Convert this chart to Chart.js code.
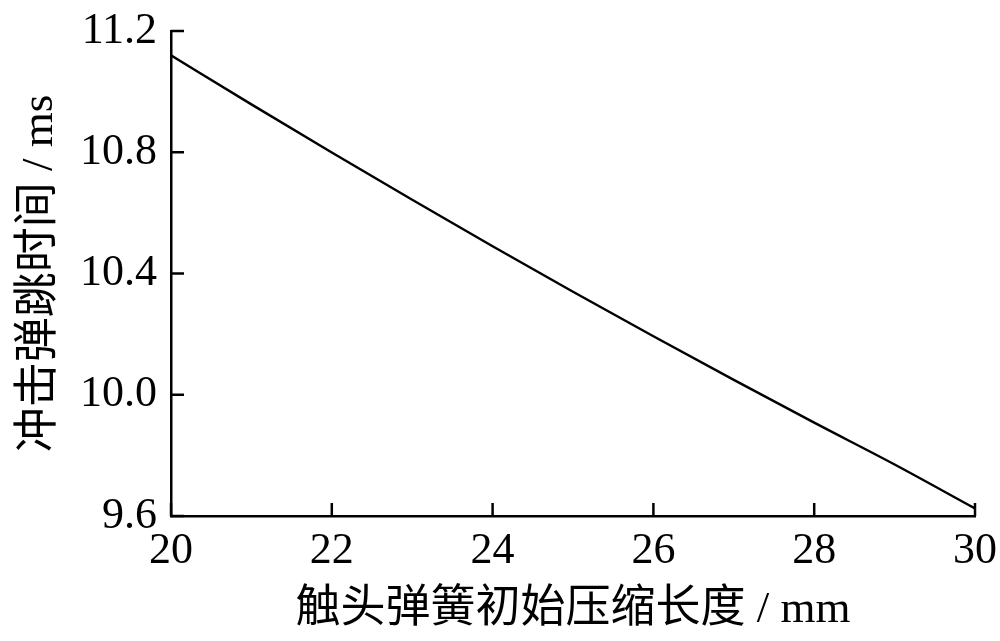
<!DOCTYPE html>
<html>
<head>
<meta charset="utf-8">
<script src="https://cdn.jsdelivr.net/npm/chart.js"></script>
<style>
  html, body { margin: 0; padding: 0; background: #fff; }
  #chart { display: block; }
</style>
</head>
<body>
<canvas id="chart" width="1000" height="641"></canvas>
<script>
// values
var lengths = [20, 21, 22, 23, 24, 25, 26, 27, 28, 29, 30];
var bounceTimes = [11.12, 10.958, 10.799, 10.643, 10.490, 10.340, 10.193, 10.049, 9.908, 9.770, 9.625];

var xTicks = [20, 22, 24, 26, 28, 30];
var yTicks = [9.6, 10.0, 10.4, 10.8, 11.2];

var xTitle = '触头弹簧初始压缩长度 / mm';
var yTitle = '冲击弹跳时间 / ms';

var fontFamily = '"Liberation Serif", "Times New Roman", "Noto Sans CJK SC", serif';

// inward tick marks
var innerTicks = {
    id: 'innerTicks',
    afterDraw: function (chart) {
        var ctx = chart.ctx;
        var area = chart.chartArea;
        var len = 13;
        ctx.save();
        ctx.strokeStyle = '#000';
        ctx.lineWidth = 2.5;
        chart.scales.x.ticks.forEach(function (t) {
            var px = chart.scales.x.getPixelForValue(t.value);
            ctx.beginPath();
            ctx.moveTo(px, area.bottom);
            ctx.lineTo(px, area.bottom - len);
            ctx.stroke();
        });
        chart.scales.y.ticks.forEach(function (t) {
            var py = chart.scales.y.getPixelForValue(t.value);
            ctx.beginPath();
            ctx.moveTo(area.left, py);
            ctx.lineTo(area.left + len, py);
            ctx.stroke();
        });
        ctx.restore();
    }
};

var points = lengths.map(function (x, i) {
    return { x: x, y: bounceTimes[i] };
});

new Chart(document.getElementById('chart').getContext('2d'), {
    type: 'line',
    data: {
        datasets: [{
            data: points,
            borderColor: '#000',
            borderWidth: 2.4,
            pointRadius: 0,
            fill: false,
            cubicInterpolationMode: 'monotone'
        }]
    },
    options: {
        responsive: false,
        devicePixelRatio: 1,
        animation: false,
        layout: { padding: { top: 31, right: 25, left: 0, bottom: 0 } },
        plugins: {
            legend: { display: false },
            tooltip: { enabled: false }
        },
        scales: {
            x: {
                type: 'linear',
                min: 20,
                max: 30,
                afterBuildTicks: function (s) {
                    s.ticks = xTicks.map(function (v) { return { value: v }; });
                },
                afterFit: function (s) {
                    s.height = 125;
                    s.paddingLeft = 0;
                    s.paddingRight = 0;
                },
                grid: { display: false, drawTicks: false },
                border: { display: true, color: '#000', width: 2.5 },
                ticks: {
                    color: '#000',
                    padding: 9,
                    maxRotation: 0,
                    font: { family: fontFamily, size: 44 }
                },
                title: {
                    display: true,
                    text: xTitle,
                    color: '#000',
                    padding: { top: 0, bottom: 4 },
                    font: { family: fontFamily, size: 45 }
                }
            },
            y: {
                min: 9.6,
                max: 11.2,
                afterBuildTicks: function (s) {
                    s.ticks = yTicks.map(function (v) { return { value: v }; });
                },
                afterFit: function (s) {
                    s.width = 171;
                    s.paddingTop = 0;
                    s.paddingBottom = 0;
                },
                grid: { display: false, drawTicks: false },
                border: { display: true, color: '#000', width: 2.5 },
                ticks: {
                    color: '#000',
                    padding: 14,
                    font: { family: fontFamily, size: 44 },
                    callback: function (v) { return Number(v).toFixed(1); }
                },
                title: {
                    display: true,
                    text: yTitle,
                    color: '#000',
                    padding: { top: 13, bottom: 0 },
                    font: { family: fontFamily, size: 45 }
                }
            }
        }
    },
    plugins: [innerTicks]
});
</script>
</body>
</html>
